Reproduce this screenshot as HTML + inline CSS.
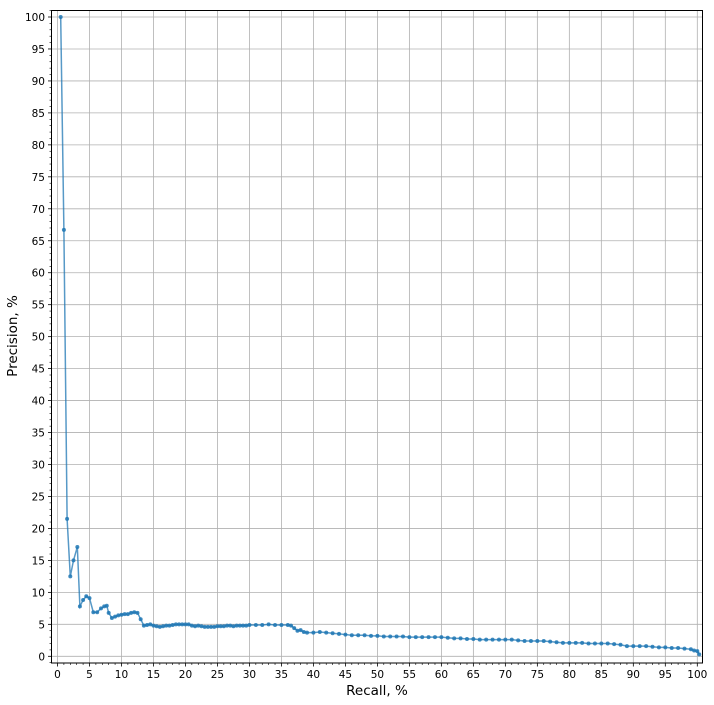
<!DOCTYPE html>
<html><head><meta charset="utf-8"><style>
html,body{margin:0;padding:0;background:#fff;}
svg{display:block;font-family:"DejaVu Sans","Liberation Sans",sans-serif;}
</style></head><body>
<svg id="chart" width="714" height="705" viewBox="0 0 714 705">
<rect x="0" y="0" width="714" height="705" fill="#fff"/>
<g id="grid"></g>
<g id="ticks"></g>
<g id="series"></g>
<rect x="51.5" y="10.5" width="651" height="652.5" fill="none" stroke="#000" stroke-width="1"/>
<text x="377" y="695" font-size="13.5" text-anchor="middle">Recall, %</text>
<text x="17" y="336" font-size="13.5" text-anchor="middle" transform="rotate(-90 17 336)">Precision, %</text>
</svg>
<script>
const recall=[0.5,1,1.5,2,2.5,3.1,3.5,4,4.5,5,5.6,6.2,6.8,7.3,7.7,8,8.5,9,9.5,10,10.5,11,11.5,12,12.5,13,13.5,14,14.5,15,15.5,16,16.5,17,17.5,18,18.5,19,19.5,20,20.5,21,21.5,22,22.5,23,23.5,24,24.5,25,25.5,26,26.5,27,27.5,28,28.5,29,29.5,30,31,32,33,34,35,36,36.5,37,37.5,38,38.5,39,40,41,42,43,44,45,46,47,48,49,50,51,52,53,54,55,56,57,58,59,60,61,62,63,64,65,66,67,68,69,70,71,72,73,74,75,76,77,78,79,80,81,82,83,84,85,86,87,88,89,90,91,92,93,94,95,96,97,98,99,99.5,100,100.3];
const precision=[100,66.7,21.5,12.5,15,17.1,7.8,8.8,9.4,9.1,6.9,6.9,7.5,7.8,7.9,6.8,6.0,6.2,6.4,6.5,6.6,6.6,6.8,6.9,6.8,5.8,4.8,4.9,5.0,4.8,4.7,4.6,4.7,4.8,4.8,4.9,5.0,5.0,5.0,5.0,5.0,4.8,4.7,4.8,4.7,4.6,4.6,4.6,4.6,4.7,4.7,4.7,4.8,4.8,4.7,4.8,4.8,4.8,4.8,4.9,4.9,4.9,5.0,4.9,4.9,4.9,4.8,4.4,4.0,4.1,3.8,3.7,3.7,3.8,3.7,3.6,3.5,3.4,3.3,3.3,3.3,3.2,3.2,3.1,3.1,3.1,3.1,3.0,3.0,3.0,3.0,3.0,3.0,2.9,2.8,2.8,2.7,2.7,2.6,2.6,2.6,2.6,2.6,2.6,2.5,2.4,2.4,2.4,2.4,2.3,2.2,2.1,2.1,2.1,2.1,2.0,2.0,2.0,2.0,1.9,1.8,1.6,1.6,1.6,1.6,1.5,1.4,1.4,1.3,1.3,1.2,1.1,0.9,0.8,0.3];
const xTicks=[0,5,10,15,20,25,30,35,40,45,50,55,60,65,70,75,80,85,90,95,100];
const yTicks=[0,5,10,15,20,25,30,35,40,45,50,55,60,65,70,75,80,85,90,95,100];
const NS='http://www.w3.org/2000/svg';
function sx(v){return 57.5+v*6.398;}
function sy(v){return 656.3-v*6.393;}
function mk(tag,attrs,parent){const e=document.createElementNS(NS,tag);for(const k in attrs)e.setAttribute(k,attrs[k]);parent.appendChild(e);return e;}
const grid=document.getElementById('grid'),ticks=document.getElementById('ticks'),series=document.getElementById('series');
xTicks.forEach(t=>{
  const x=sx(t);
  const g=mk('line',{x1:x,x2:x,y1:10.5,y2:663,stroke:'#b0b0b0','stroke-width':0.8},grid);
  
  
  mk('line',{x1:x,x2:x,y1:663,y2:666.5,stroke:'#000','stroke-width':0.8},ticks);
  const tx=mk('text',{x:x,y:678,'font-size':10.5,'text-anchor':'middle',fill:'#000'},ticks);
  tx.textContent=t;
  
  
});
yTicks.forEach(t=>{
  const y=sy(t);
  const g=mk('line',{x1:51.5,x2:702.5,y1:y,y2:y,stroke:'#b0b0b0','stroke-width':0.8},grid);
  
  
  mk('line',{x1:48,x2:51.5,y1:y,y2:y,stroke:'#000','stroke-width':0.8},ticks);
  const tx=mk('text',{x:45,y:y+4,'font-size':10.5,'text-anchor':'end',fill:'#000'},ticks);
  tx.textContent=t;
  
  
});
for(let i=-1;i<=101;i++){ if(i%5===0)continue; const x=sx(i); if(x<51.5||x>702.5)continue;
  mk('line',{x1:x,x2:x,y1:663,y2:665,stroke:'#000','stroke-width':0.6},ticks);}
for(let i=-1;i<=101;i++){ if(i%5===0)continue; const y=sy(i); if(y<10.5||y>663)continue;
  mk('line',{x1:49.5,x2:51.5,y1:y,y2:y,stroke:'#000','stroke-width':0.6},ticks);}
const pts=recall.map((r,i)=>sx(r).toFixed(2)+','+sy(precision[i]).toFixed(2)).join(' ');
const line=mk('polyline',{points:pts,fill:'none',stroke:'#1f77b4','stroke-opacity':0.75,'stroke-width':1.5},series);


recall.forEach((r,i)=>{
  const c=mk('circle',{cx:sx(r),cy:sy(precision[i]),r:2,fill:'#1f77b4','fill-opacity':0.85},series);
  
  
});
</script>
</body></html>
